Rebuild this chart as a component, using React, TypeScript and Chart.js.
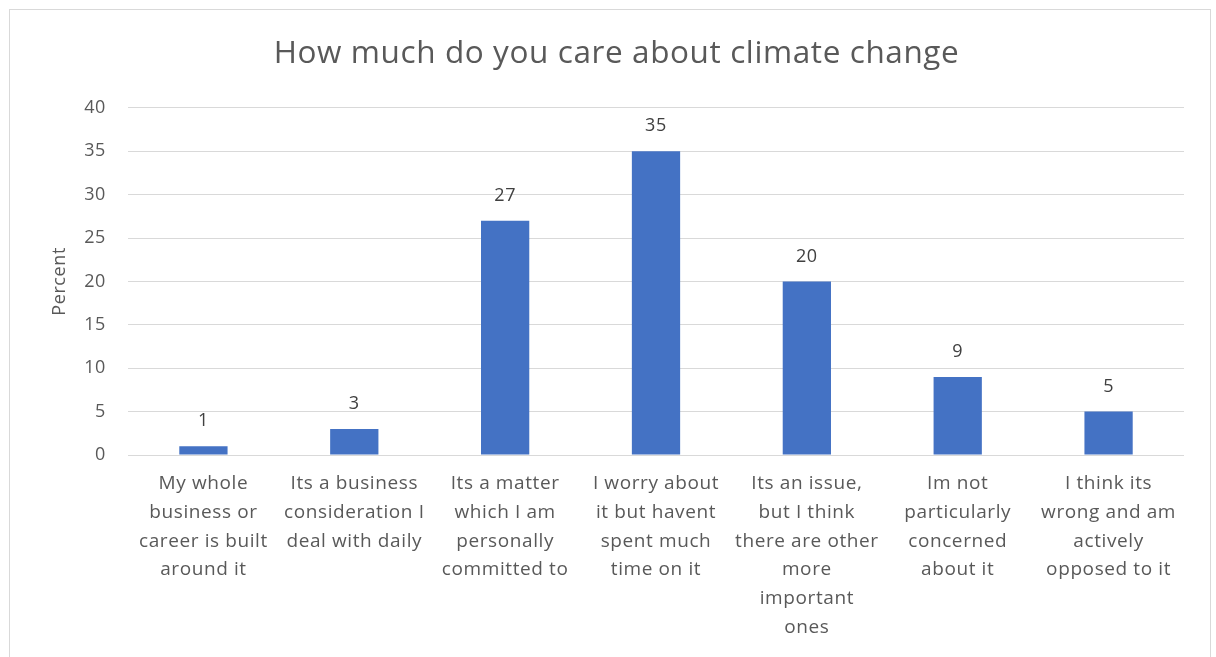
import React, { useEffect, useRef } from "react";
import { Chart, registerables } from "chart.js";

Chart.register(...registerables);

const chartTitle = "How much do you care about climate change";
const yAxisTitle = "Percent";
const categories: string[][] = [
  ["My whole", "business or", "career is built", "around it"],
  ["Its a business", "consideration I", "deal with daily"],
  ["Its a matter", "which I am", "personally", "committed to"],
  ["I worry about", "it but havent", "spent much", "time on it"],
  ["Its an issue,", "but I think", "there are other", "more", "important", "ones"],
  ["Im not", "particularly", "concerned", "about it"],
  ["I think its", "wrong and am", "actively", "opposed to it"],
];
const percentValues = [1, 3, 27, 35, 20, 9, 5];
const yMin = 0;
const yMax = 40;
const yStep = 5;

const FONT = "'Open Sans', Lato, sans-serif";
const TEXT = "#595959";
const SPACING = "0.6px";

const spacingPlugin = {
  id: "letterSpacing",
  beforeLayout(chart: any) {
    (chart.ctx as any).letterSpacing = SPACING;
  },
  beforeDraw(chart: any) {
    (chart.ctx as any).letterSpacing = SPACING;
  },
};

const dataLabelPlugin = {
  id: "dataLabels",
  afterDatasetsDraw(chart: any) {
    const ctx = chart.ctx;
    const meta = chart.getDatasetMeta(0);
    const ds = chart.data.datasets[0];
    ctx.save();
    ctx.font = `18px ${FONT}`;
    ctx.fillStyle = "#404040";
    ctx.textAlign = "center";
    ctx.textBaseline = "middle";
    meta.data.forEach((bar: any, i: number) => {
      ctx.fillText(String(ds.data[i]), bar.x, bar.y - 25);
    });
    ctx.restore();
  },
};

export default function App() {
  const canvasRef = useRef<HTMLCanvasElement | null>(null);

  useEffect(() => {
    document.body.style.margin = "0";
    const canvas = canvasRef.current;
    if (!canvas) return;
    const chart = new Chart(canvas, {
      type: "bar",
      data: {
        labels: categories,
        datasets: [
          {
            label: yAxisTitle,
            data: percentValues,
            backgroundColor: "#4472C4",
            borderWidth: 0,
            categoryPercentage: 1,
            barPercentage: 0.32,
          },
        ],
      },
      options: {
        animation: false,
        responsive: false,
        maintainAspectRatio: false,
        layout: { padding: { left: 49, right: 32, top: 0, bottom: 0 } },
        plugins: {
          legend: { display: false },
          tooltip: { enabled: false },
          title: {
            display: true,
            text: chartTitle,
            color: TEXT,
            font: { family: FONT, size: 31.5, weight: "normal", lineHeight: 1.2 },
            padding: { top: 35, bottom: 35 },
          },
        },
        scales: {
          x: {
            grid: { display: false, drawTicks: false },
            border: { display: false },
            ticks: {
              color: TEXT,
              font: { family: FONT, size: 19, lineHeight: 1.52 },
              maxRotation: 0,
              minRotation: 0,
              autoSkip: false,
              padding: 14,
            },
            afterFit(scale: any) {
              scale.height = 202;
            },
          },
          y: {
            min: yMin,
            max: yMax,
            ticks: {
              stepSize: yStep,
              color: TEXT,
              font: { family: FONT, size: 18 },
              padding: 22,
            },
            grid: { color: "#D9D9D9", lineWidth: 1, drawTicks: false },
            border: { display: false },
            title: {
              display: true,
              text: yAxisTitle,
              color: TEXT,
              font: { family: FONT, size: 18 },
              padding: { top: 0, bottom: 0 },
            },
            afterFit(scale: any) {
              scale.width = 79;
            },
          },
        },
      },
      plugins: [spacingPlugin, dataLabelPlugin],
    });
    return () => chart.destroy();
  }, []);

  return (
    <div style={{ position: "relative", width: 1216, height: 657, overflow: "hidden", background: "#fff" }}>
      <div
        style={{
          position: "absolute",
          left: 9,
          top: 9,
          width: 1200,
          height: 700,
          border: "1px solid #D9D9D9",
        }}
      />
      <canvas ref={canvasRef} width={1216} height={657} style={{ position: "absolute", left: 0, top: 0 }} />
    </div>
  );
}
